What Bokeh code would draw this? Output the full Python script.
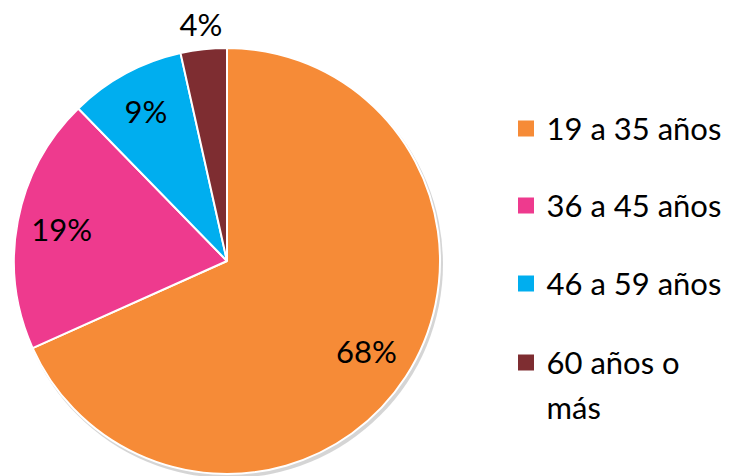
import math
from bokeh.plotting import figure
from bokeh.models import Range1d, ColumnDataSource
from bokeh.core.properties import value
from bokeh.embed import file_html
from bokeh.resources import INLINE

# data
categories = ["19 a 35 años", "36 a 45 años", "46 a 59 años", "60 años o\nmás"]
values = [68.3, 19.4, 8.8, 3.5]
colors = ["#F68B37", "#EE3A8E", "#00AEEF", "#7E2D31"]

FONT = "Lato"
W, H = 729, 476
p = figure(width=W, height=H, output_backend="svg", toolbar_location=None,
           x_range=Range1d(0, W), y_range=Range1d(0, H),
           min_border=0)
p.axis.visible = False
p.grid.visible = False
p.outline_line_color = None
p.background_fill_color = "white"
p.border_fill_color = "white"

cx, cy, r = 226.5, 476 - 260.5, 213
total = sum(values)
starts, ends, mids = [], [], []
cum = 0.0
for v in values:
    a1 = math.pi / 2 - 2 * math.pi * cum / total
    cum += v
    a0 = math.pi / 2 - 2 * math.pi * cum / total
    starts.append(a0)
    ends.append(a1)
    mids.append((a0 + a1) / 2)

# shadow
p.circle(x=[cx + 2], y=[cy - 3], radius=r + 1, fill_color="#888888",
         fill_alpha=0.35, line_color=None)

src = ColumnDataSource(dict(x=[cx] * 4, y=[cy] * 4, start=starts, end=ends, color=colors))
p.wedge(x="x", y="y", radius=r, start_angle="start", end_angle="end",
        fill_color="color", line_color="white", line_width=2, source=src)

# data labels
label_dist = [0.78, 0.79, 0.80, 1.12]
lx = [cx + label_dist[i] * r * math.cos(mids[i]) for i in range(4)]
ly = [cy + label_dist[i] * r * math.sin(mids[i]) for i in range(4)]
labels = [f"{round(v)}%" for v in values]
p.text(x=lx, y=ly, text=labels, text_font=value(FONT), text_font_size="31px",
       text_align="center", text_baseline="middle", text_color="black")

# legend
leg_y = [476 - 128, 476 - 205, 476 - 283, 476 - 362]
p.rect(x=[525.5] * 4, y=leg_y, width=16, height=16, fill_color=colors, line_color=None)
first = [c.split("\n")[0] for c in categories]
p.text(x=[546] * 4, y=[y + 1 for y in leg_y], text=first, text_font=value(FONT),
       text_font_size="31px", text_align="left", text_baseline="middle", text_color="black")
extra_x, extra_y, extra_t = [], [], []
for i, c in enumerate(categories):
    parts = c.split("\n")
    for j, part in enumerate(parts[1:], start=1):
        extra_x.append(546)
        extra_y.append(leg_y[i] + 1 - 45 * j)
        extra_t.append(part)
p.text(x=extra_x, y=extra_y, text=extra_t, text_font=value(FONT),
       text_font_size="31px", text_align="left", text_baseline="middle", text_color="black")

open("out.html", "w").write(file_html(p, INLINE))
